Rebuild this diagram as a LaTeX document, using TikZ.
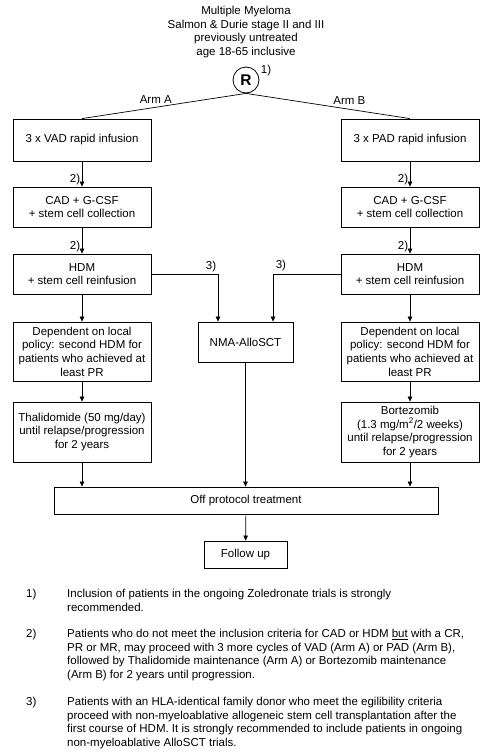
\documentclass[tikz,border=0pt]{standalone}
\usepackage{fontspec}
\setmainfont{Liberation Sans}
\usetikzlibrary{arrows.meta,positioning}

\begin{document}
\begin{tikzpicture}[x=1pt, y=-1pt,
  every node/.style={font=\fontsize{11.5}{13.6}\selectfont},
  box/.style={draw, line width=0.8pt, align=center, inner sep=1pt, minimum width=138pt},
  arr/.style={-{Triangle[length=5pt,width=4.5pt]}, line width=0.7pt},
  link/.style={line width=0.7pt},
  note/.style={anchor=north west, align=left, inner sep=0pt}]
  \useasboundingbox (0,0) rectangle (493,755);
  % Title and randomisation
  \node[align=center] (title) at (246,32) {Multiple Myeloma\\Salmon \& Durie stage II and III\\previously untreated\\age 18-65 inclusive};
  \node[draw, circle, minimum size=26pt, inner sep=0pt, line width=0.8pt, font=\fontsize{15.5}{15.5}\selectfont\bfseries] (R) at (246,80) {R};
  \node[inner sep=0pt] (Rnote) at (266,71) {1)};
  % Arm A
  \node[box, minimum height=42pt] (vadA) at (82,140) {3 x VAD rapid infusion};
  \node[box, minimum height=40pt] (cadA) at (82,207) {CAD + G-CSF\\+ stem cell collection};
  \node[box, minimum height=40pt] (hdmA) at (82,274) {HDM\\+ stem cell reinfusion};
  \node[box, minimum height=59pt] (polA) at (82,351.5) {Dependent on local\\policy: second HDM for\\patients who achieved at\\least PR};
  \node[box, minimum height=60pt] (thalA) at (82,432) {Thalidomide (50 mg/day)\\until relapse/progression\\for 2 years};
  % Arm B
  \node[box, minimum height=42pt] (padB) at (410,140) {3 x PAD rapid infusion};
  \node[box, minimum height=40pt] (cadB) at (410,207) {CAD + G-CSF\\+ stem cell collection};
  \node[box, minimum height=40pt] (hdmB) at (410,274) {HDM\\+ stem cell reinfusion};
  \node[box, minimum height=59pt] (polB) at (410,351.5) {Dependent on local\\policy: second HDM for\\patients who achieved at\\least PR};
  \node[box, minimum height=60pt] (bortB) at (410,432) {Bortezomib\\(1.3 mg/m\textsuperscript{2}/2 weeks)\\until relapse/progression\\for 2 years};
  % Centre column
  \node[box, minimum width=95pt, minimum height=40pt] (nma) at (245.5,342) {NMA-AlloSCT};
  \node[box, minimum width=384pt, minimum height=27pt] (off) at (246,500.5) {Off protocol treatment};
  \node[box, minimum width=83pt, minimum height=27pt] (follow) at (245.5,554.5) {Follow up};
  % Connectors
  \draw[link] (R.south) -- node[pos=0.55, above] {Arm A} (vadA.north);
  \draw[link] (R.south) -- node[pos=0.63, above=1pt] {Arm B} (padB.north);
  \draw[arr] (vadA) -- node[at end, above left, inner sep=1.5pt] {2)} (cadA);
  \draw[arr] (cadA) -- node[at end, above left, inner sep=1.5pt] {2)} (hdmA);
  \draw[arr] (hdmA) -- (polA);
  \draw[arr] (polA) -- (thalA);
  \draw[arr] (padB) -- node[at end, above left, inner sep=1.5pt] {2)} (cadB);
  \draw[arr] (cadB) -- node[at end, above left, inner sep=1.5pt] {2)} (hdmB);
  \draw[arr] (hdmB) -- (polB);
  \draw[arr] (polB) -- (bortB);
  \draw[arr] (hdmA.east) -| node[pos=0.5, above left, inner sep=1.5pt] {3)} ([xshift=-27.5pt]nma.north);
  \draw[arr] (hdmB.west) -| node[pos=0.5, above right, inner sep=2.5pt] {3)} ([xshift=27.5pt]nma.north);
  \draw[arr] (thalA.south) -- (thalA.south |- off.north);
  \draw[arr] (nma.south) -- (nma.south |- off.north);
  \draw[arr] (bortB.south) -- (bortB.south |- off.north);
  \draw[arr] (off) -- (follow);
  % Notes
  \node[note] (n1) at (26,589) {1)};
  \node[note] (t1) at (67,589) {Inclusion of patients in the ongoing Zoledronate trials is strongly\\recommended.};
  \node[note] (n2) at (26,629) {2)};
  \node[note] (t2) at (67,629) {Patients who do not meet the inclusion criteria for CAD or HDM \underline{but} with a CR,\\PR or MR, may proceed with 3 more cycles of VAD (Arm A) or PAD (Arm B),\\followed by Thalidomide maintenance (Arm A) or Bortezomib maintenance\\(Arm B) for 2 years until progression.};
  \node[note] (n3) at (26,697) {3)};
  \node[note] (t3) at (67,697) {Patients with an HLA-identical family donor who meet the egilibility criteria\\proceed with non-myeloablative allogeneic stem cell transplantation after the\\first course of HDM. It is strongly recommended to include patients in ongoing\\non-myeloablative AlloSCT trials.};
\end{tikzpicture}
\end{document}
